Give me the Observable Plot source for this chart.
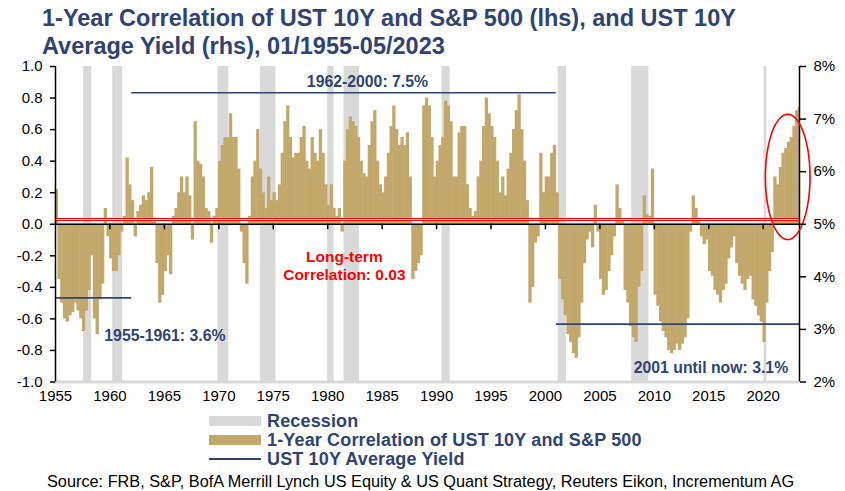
<!DOCTYPE html>
<html>
<head>
<meta charset="utf-8">
<script src="https://cdn.jsdelivr.net/npm/d3@7"></script>
<script src="https://cdn.jsdelivr.net/npm/@observablehq/plot@0.6"></script>
<style>
  html, body { margin: 0; padding: 0; background: #fff; }
  body { width: 845px; height: 491px; overflow: hidden; position: relative; font-family: "Liberation Sans", Arial, sans-serif; }
  #chart { position: absolute; left: 0; top: 0; }
  #title { position: absolute; left: 42px; top: 4px; font-weight: bold; font-size: 23.5px; line-height: 28px; color: #2f4470; white-space: nowrap; }
  #legend { position: absolute; left: 209px; top: 411.5px; color: #2f4470; font-weight: bold; font-size: 18px; }
  .row { display: flex; align-items: center; height: 19px; white-space: nowrap; }
  .sw { width: 52px; margin-right: 6px; flex: none; }
  .lt { display: inline-block; height: 19px; line-height: 19px; overflow: visible; letter-spacing: 0.15px; }
  #source { position: absolute; left: 47px; top: 472px; font-size: 16.3px; line-height: 18px; color: #000; white-space: nowrap; }
</style>
</head>
<body>
<div id="chart"></div>
<div id="title"></div>
<div id="legend"></div>
<div id="source"></div>
<script>
// ---------------- DATA ----------------
const titleLines = [
  "1-Year Correlation of UST 10Y and S&P 500 (lhs), and UST 10Y",
  "Average Yield (rhs), 01/1955-05/2023"
];
const sourceText = "Source: FRB, S&P, BofA Merrill Lynch US Equity & US Quant Strategy, Reuters Eikon, Incrementum AG";

const firstYear = 1955;
const lastDate = 2023 + 4 / 12; // through May 2023

// quarterly 1-year correlation, by period
const corr1955_1964 = [
  0.22, -0.35, -0.5, -0.6,   -0.62, -0.58, -0.56, -0.5,   -0.55, -0.6, -0.68, -0.55,
  -0.42, -0.2, -0.6, -0.7,   -0.48, -0.38, 0.1, -0.08,    -0.22, -0.3, -0.3, -0.2,
  -0.05, 0.05, 0.42, 0.25,   0.15, -0.08, 0.08, 0.12,     0.18, 0.15, 0.2, 0.36,
  0.04, -0.25, -0.5, -0.45
];
const corr1965_1974 = [
  -0.3, -0.2, -0.32, 0.05,   0.1, 0.2, 0.3, 0.2,         0.3, 0.18, -0.1, 0.65,
  0.4, 0.38, 0.3, 0.1,       0.08, -0.12, 0.05, 0.1,     0.4, 0.5, 0.55, 0.55,
  0.7, 0.55, 0.55, 0.35,     -0.05, -0.25, -0.38, 0.05,  0.3, 0.4, 0.6, 0.35,
  0.2, 0.1, 0.3, 0.15
];
const corr1975_1984 = [
  0.2, 0.15, 0.25, 0.45,     0.65, 0.75, 0.55, 0.42,     0.45, 0.45, 0.55, 0.62,
  0.4, 0.35, 0.55, 0.45,     0.4, 0.6, 0.45, 0.25,       0.12, 0.25, 0.1, 0.05,
  0.1, -0.05, 0.4, 0.6,      0.68, 0.65, 0.62, 0.55,     0.4, 0.32, 0.3, 0.5,
  0.65, 0.72, 0.4, 0.25
];
const corr1985_1994 = [
  0.2, 0.3, 0.45, 0.62,      0.75, 0.6, 0.5, 0.55,       0.5, 0.58, 0.3, -0.35,
  -0.3, -0.25, -0.2, 0.75,   0.8, 0.75, 0.55, 0.3,       0.4, 0.5, 0.55, 0.78,
  0.75, 0.65, 0.3, 0.3,      0.58, 0.62, 0.62, 0.25,     0.1, 0.05, 0.08, 0.3,
  0.4, 0.62, 0.8, 0.7
];
const corr1995_2004 = [
  0.62, 0.55, 0.4, 0.2,      0.3, 0.18, 0.35, 0.45,      0.6, 0.72, 0.82, 0.6,
  0.4, 0.15, -0.5, -0.4,     -0.12, -0.08, 0.45, 0.2,    0.3, 0.3, 0.45, 0.5,
  0.2, -0.35, -0.48, -0.58,  -0.7, -0.75, -0.82, -0.85,  -0.72, -0.5, -0.25, -0.1,
  -0.05, -0.15, 0.12, -0.05
];
const corr2005_2014 = [
  -0.35, -0.45, -0.42, -0.3, -0.2, -0.08, 0.25, 0.1,     0.02, -0.42, -0.5, -0.65,
  -0.72, -0.75, -0.4, -0.3,  0.18, 0.06, 0.05, 0.35,     -0.45, -0.52, -0.62, -0.68,
  -0.72, -0.8, -0.82, -0.8,  -0.76, -0.8, -0.76, -0.72,  -0.6, -0.05, 0.18, 0.1,
  0.02, -0.08, -0.13, -0.1
];
const corr2015_2023 = [
  -0.3, -0.33, -0.42, -0.45, -0.5, -0.42, -0.38, -0.22,  -0.15, -0.08, -0.25, -0.33,
  -0.38, -0.42, -0.35, -0.33, -0.48, -0.52, -0.58, -0.62, -0.75, -0.5, -0.3, -0.18,
  0.3, 0.25, 0.36, 0.45,     0.48, 0.52, 0.55, 0.62,     0.72, 0.74
];

// NBER recessions (decimal years)
const recessionStart = [1957.58, 1960.25, 1969.92, 1973.83, 1980.0, 1981.5, 1990.5, 2001.17, 2007.92, 2020.08];
const recessionEnd   = [1958.33, 1961.17, 1970.92, 1975.25, 1980.58, 1982.92, 1991.25, 2001.92, 2009.5, 2020.33];

// UST 10Y average yield by regime (rhs, %)
const regimeFrom  = [1955, 1962, 2001];
const regimeTo    = [1962, 2001, lastDate];
const regimeYield = [3.6, 7.5, 3.1];
const regimeLabel = ["1955-1961: 3.6%", "1962-2000: 7.5%", "2001 until now: 3.1%"];
const regimeLabelX = [1965.05, 1983.65, 2015.2];
const regimeLabelY = [-0.71, 0.9, -0.91];

const longTermCorr = 0.03;
const longTermLabel = "Long-term\nCorrelation: 0.03";

const leftTicks  = [-1, -0.8, -0.6, -0.4, -0.2, 0, 0.2, 0.4, 0.6, 0.8, 1];
const rightTicks = [2, 3, 4, 5, 6, 7, 8];
const xTicks     = [1955, 1960, 1965, 1970, 1975, 1980, 1985, 1990, 1995, 2000, 2005, 2010, 2015, 2020];

// highlight ellipse (data units)
const ellipseCenter = [2022.25, 0.3];
const ellipseRadius = [2.05, 0.397];

// secondary axis mapping: 2% <-> -1, 8% <-> 1
const yieldToCorr = v => (v - 5) / 3;

// ---------------- BUILD ----------------
const corrAll = [].concat(corr1955_1964, corr1965_1974, corr1975_1984, corr1985_1994, corr1995_2004, corr2005_2014, corr2015_2023);
const bars = corrAll.map((v, i) => ({
  x1: firstYear + i / 4,
  x2: Math.min(firstYear + (i + 1) / 4, lastDate),
  v
}));
const recessions = recessionStart.map((s, i) => ({s, e: recessionEnd[i]}));
const regimes = regimeFrom.map((f, i) => ({f, t: regimeTo[i], y: yieldToCorr(regimeYield[i]), label: regimeLabel[i], lx: regimeLabelX[i], ly: regimeLabelY[i]}));
const ellipse = d3.range(0, 2 * Math.PI + 0.001, Math.PI / 60).map(a => ({
  x: ellipseCenter[0] + ellipseRadius[0] * Math.cos(a),
  y: ellipseCenter[1] + ellipseRadius[1] * Math.sin(a)
}));

const navy = "#2f4470";
const tan = "#c3a86c";
const grey = "#d9d9d9";

const chart = Plot.plot({
  width: 845,
  height: 412,
  marginTop: 66,
  marginBottom: 30.5,
  marginLeft: 55,
  marginRight: 46,
  style: {fontFamily: "'Liberation Sans', Arial, sans-serif", fontSize: "15px", color: "#000", background: "transparent"},
  x: {domain: [firstYear, lastDate]},
  y: {domain: [-1, 1]},
  marks: [
    Plot.rectY(recessions, {x1: "s", x2: "e", y1: -1, y2: 1, fill: grey}),
    Plot.rectY(bars, {x1: "x1", x2: "x2", y: "v", fill: tan, insetLeft: -0.3, insetRight: -0.3}),
    Plot.ruleY([-1], {stroke: grey, strokeWidth: 3}),
    Plot.ruleY(regimes, {y: "y", x1: "f", x2: "t", stroke: navy, strokeWidth: 1.6}),
    Plot.ruleY([0], {stroke: "#000", strokeWidth: 1.6}),
    Plot.ruleX(xTicks.slice(1), {y1: 0, y2: -0.035, stroke: "#000", strokeWidth: 1.5}),
    Plot.ruleY([longTermCorr], {stroke: "#ff0000", strokeWidth: 3.2}),
    Plot.ruleY([longTermCorr], {stroke: "#ffffff", strokeWidth: 1, strokeOpacity: 0.85}),
    Plot.ruleX([firstYear], {y1: -1, y2: 1, stroke: "#000", strokeWidth: 1.5}),
    Plot.ruleX([lastDate], {y1: -1, y2: 1, stroke: "#000", strokeWidth: 1.5}),
    Plot.line(ellipse, {x: "x", y: "y", stroke: "#ff0000", strokeWidth: 1.6}),
    Plot.text(regimes, {x: "lx", y: "ly", text: "label", fill: navy, fontWeight: "bold", fontSize: 15.8}),
    Plot.text([longTermLabel], {x: 1981.53, y: -0.262, text: d => d, fill: "#ff0000", fontWeight: "bold", fontSize: 15.5, lineHeight: 1.13}),
    Plot.axisY({anchor: "left", ticks: leftTicks, tickFormat: d => d.toFixed(1), tickSize: 5, tickPadding: 8, fontSize: 15, label: null, stroke: "#000", strokeWidth: 1.5}),
    Plot.axisY({anchor: "right", ticks: rightTicks.map(yieldToCorr), tickFormat: d => Math.round(d * 3 + 5) + "%", tickSize: 6, tickPadding: 8, fontSize: 15, label: null, stroke: "#000", strokeWidth: 1.5}),
    Plot.axisX({ticks: xTicks, tickFormat: d => String(d), tickSize: 0, tickPadding: 8, fontSize: 15, label: null})
  ]
});
document.getElementById("chart").appendChild(chart);

document.getElementById("title").innerHTML = titleLines.join("<br>");
document.getElementById("source").textContent = sourceText;

const legendItems = [
  {label: "Recession", type: "rect", color: grey},
  {label: "1-Year Correlation of UST 10Y and S&P 500", type: "rect", color: tan},
  {label: "UST 10Y Average Yield", type: "line", color: navy}
];
const legend = document.getElementById("legend");
legendItems.forEach(it => {
  const row = document.createElement("div");
  row.className = "row";
  const sw = document.createElement("span");
  sw.className = "sw";
  sw.style.background = it.color;
  sw.style.height = it.type === "rect" ? "10px" : "2px";
  const tx = document.createElement("span");
  tx.className = "lt";
  tx.textContent = it.label;
  row.appendChild(sw);
  row.appendChild(tx);
  legend.appendChild(row);
});
</script>
</body>
</html>
